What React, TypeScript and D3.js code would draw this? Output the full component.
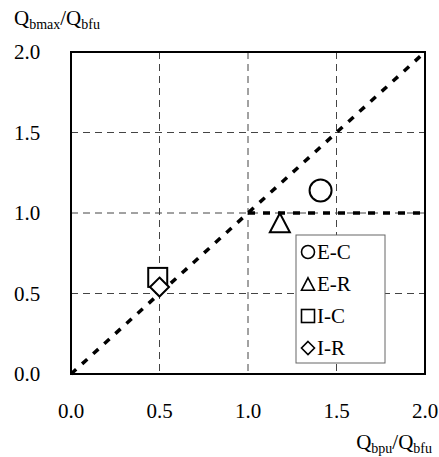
import React from "react";
import * as d3 from "d3";

const seriesNames = ["E-C", "E-R", "I-C", "I-R"];
const seriesShapes = ["circle", "triangle", "square", "diamond"];
const xValues = [1.41, 1.18, 0.49, 0.5];
const yValues = [1.14, 0.94, 0.6, 0.54];
const tickValues = [0, 0.5, 1.0, 1.5, 2.0];
const gridValues = [0.5, 1.0, 1.5];
const diagLine = [[0, 0], [2, 2]];
const capLine = [[1, 1], [2, 1]];

const W = 439, H = 457;
const m = { left: 71, right: 425, top: 52, bottom: 374 };
const FONT = "Liberation Serif, Times New Roman, serif";

function Marker({ shape, x, y, s, sw = 2 }: { shape: string; x: number; y: number; s: number; sw?: number }) {
  const common = { fill: "white", stroke: "black", strokeWidth: sw };
  if (shape === "circle") return <circle cx={x} cy={y} r={s / 2} {...common} />;
  if (shape === "square") return <rect x={x - s / 2} y={y - s / 2} width={s} height={s} {...common} />;
  if (shape === "triangle") {
    const h = s * 0.95;
    return <path d={`M${x},${y - h / 2}L${x + s / 2},${y + h / 2}L${x - s / 2},${y + h / 2}Z`} {...common} />;
  }
  return <path d={`M${x},${y - s / 2}L${x + s / 2},${y}L${x},${y + s / 2}L${x - s / 2},${y}Z`} {...common} />;
}

export default function App() {
  const x = d3.scaleLinear().domain([0, 2]).range([m.left, m.right]);
  const y = d3.scaleLinear().domain([0, 2]).range([m.bottom, m.top]);
  const line = d3.line<number[]>().x((d) => x(d[0])).y((d) => y(d[1]));
  const sizes = [22, 20, 19, 19];
  const legX = 296, legY = 235, legW = 89, legH = 128;
  return (
    <svg width={W} height={H} style={{ position: "absolute", left: 0, top: 0, fontFamily: FONT }}>
      <rect width={W} height={H} fill="white" />
      {gridValues.map((v) => (
        <g key={v}>
          <line x1={x(v)} x2={x(v)} y1={m.top} y2={m.bottom} stroke="#444" strokeWidth={1} strokeDasharray="7,5" />
          <line x1={m.left} x2={m.right} y1={y(v)} y2={y(v)} stroke="#444" strokeWidth={1} strokeDasharray="7,5" />
        </g>
      ))}
      <path d={line(diagLine as any) || ""} stroke="black" strokeWidth={3.5} strokeDasharray="7,8" fill="none" />
      <path d={line(capLine as any) || ""} stroke="black" strokeWidth={3.5} strokeDasharray="7,8" fill="none" />
      <rect x={m.left} y={m.top} width={m.right - m.left} height={m.bottom - m.top} fill="none" stroke="black" strokeWidth={2} />
      {seriesNames.map((n, i) => (
        <Marker key={n} shape={seriesShapes[i]} x={x(xValues[i])} y={y(yValues[i])} s={sizes[i]} />
      ))}
      <rect x={legX} y={legY} width={legW} height={legH} fill="white" stroke="#666" strokeWidth={1} />
      {seriesNames.map((n, i) => {
        const cy = legY + 17 + i * 32;
        return (
          <g key={n}>
            <Marker shape={seriesShapes[i]} x={legX + 12} y={cy} s={13} sw={1.6} />
            <text x={legX + 21} y={cy + 7} fontSize={21}>{n}</text>
          </g>
        );
      })}
      {tickValues.map((v) => (
        <text key={"y" + v} x={14} y={y(v) + 7} fontSize={21}>{v.toFixed(1)}</text>
      ))}
      {tickValues.map((v) => (
        <text key={"x" + v} x={x(v)} y={418} textAnchor="middle" fontSize={21}>{v.toFixed(1)}</text>
      ))}
      <text x={14} y={25} fontSize={21}>
        Q<tspan fontSize={14} dy={4}>bmax</tspan><tspan dy={-4}>/Q</tspan><tspan fontSize={14} dy={4}>bfu</tspan>
      </text>
      <text x={432} y={449} textAnchor="end" fontSize={21}>
        Q<tspan fontSize={14} dy={4}>bpu</tspan><tspan dy={-4}>/Q</tspan><tspan fontSize={14} dy={4}>bfu</tspan>
      </text>
    </svg>
  );
}
